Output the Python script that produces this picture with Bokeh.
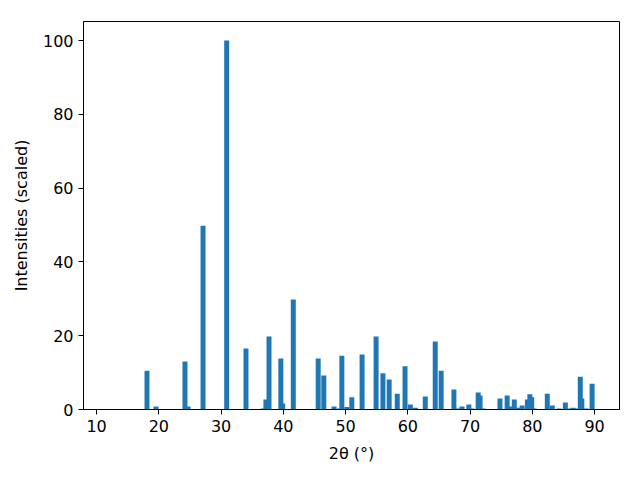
from bokeh.plotting import figure
from bokeh.embed import file_html
from bokeh.resources import INLINE
from bokeh.models import ColumnDataSource, Range1d, FixedTicker

two_theta = [18.1, 19.55, 24.2, 24.7, 27.1, 30.9, 34.0, 36.75, 37.2, 37.7,
             39.6, 39.9, 41.6, 45.6, 46.5, 48.15, 49.0, 49.4, 50.2, 51.0,
             52.65, 54.9, 56.0, 57.0, 58.3, 59.55, 60.4, 61.2, 62.8, 64.4,
             65.35, 67.4, 68.1, 68.7, 69.8, 70.3, 71.3, 71.6, 72.1, 74.8,
             75.95, 76.4, 77.1, 77.6, 78.35, 79.2, 79.6, 79.9, 80.3, 82.4,
             83.2, 84.3, 85.3, 85.9, 86.55, 87.2, 87.7, 87.95, 88.6, 89.6]
intensity = [10.5, 0.8, 13.0, 0.8, 49.8, 100.0, 16.5, 0.3, 2.7, 19.8,
             13.8, 1.6, 29.8, 13.8, 9.2, 0.8, 0.3, 14.6, 0.7, 3.3,
             14.9, 19.8, 9.8, 8.1, 4.3, 11.7, 1.35, 0.5, 3.5, 18.4,
             10.5, 5.4, 0.3, 0.8, 1.35, 0.3, 4.6, 3.8, 0.3, 3.0,
             3.8, 0.8, 2.7, 0.5, 1.1, 2.7, 4.1, 3.3, 0.3, 4.3,
             1.1, 0.3, 1.9, 0.3, 0.5, 0.3, 8.9, 3.0, 0.3, 7.0]
x_ticks = [10, 20, 30, 40, 50, 60, 70, 80, 90]
y_ticks = [0, 20, 40, 60, 80, 100]

src = ColumnDataSource(dict(x=two_theta, top=intensity))

p = figure(output_backend="svg", toolbar_location=None,
           frame_width=536, frame_height=388,
           min_border_left=83, min_border_top=21, min_border_right=13, min_border_bottom=63,
           x_range=Range1d(7.9, 94.0), y_range=Range1d(0, 105.15))

p.vbar(x="x", top="top", bottom=0, width=0.8, source=src,
       fill_color="#1f77b4", line_color=None)

p.xgrid.visible = False
p.ygrid.visible = False
p.outline_line_color = "black"
p.outline_line_width = 1
p.background_fill_color = "white"
p.border_fill_color = "white"

for ax in (p.xaxis, p.yaxis):
    ax.axis_line_color = "black"
    ax.major_tick_line_color = "black"
    ax.major_tick_out = 5
    ax.major_tick_in = 0
    ax.minor_tick_line_color = None
    ax.major_label_text_font = "DejaVu Sans"
    ax.major_label_text_font_size = "16px"
    ax.major_label_text_color = "black"
    ax.axis_label_text_font = "DejaVu Sans"
    ax.axis_label_text_font_size = "16px"
    ax.axis_label_text_font_style = "normal"
    ax.axis_label_text_color = "black"

p.xaxis.ticker = FixedTicker(ticks=x_ticks)
p.yaxis.ticker = FixedTicker(ticks=y_ticks)
p.xaxis.axis_label = "2θ (°)"
p.yaxis.axis_label = "Intensities (scaled)"
p.xaxis.major_label_standoff = 5
p.yaxis.major_label_standoff = 5
p.xaxis.axis_label_standoff = 9
p.yaxis.axis_label_standoff = 9

open("out.html", "w").write(file_html(p, INLINE))
